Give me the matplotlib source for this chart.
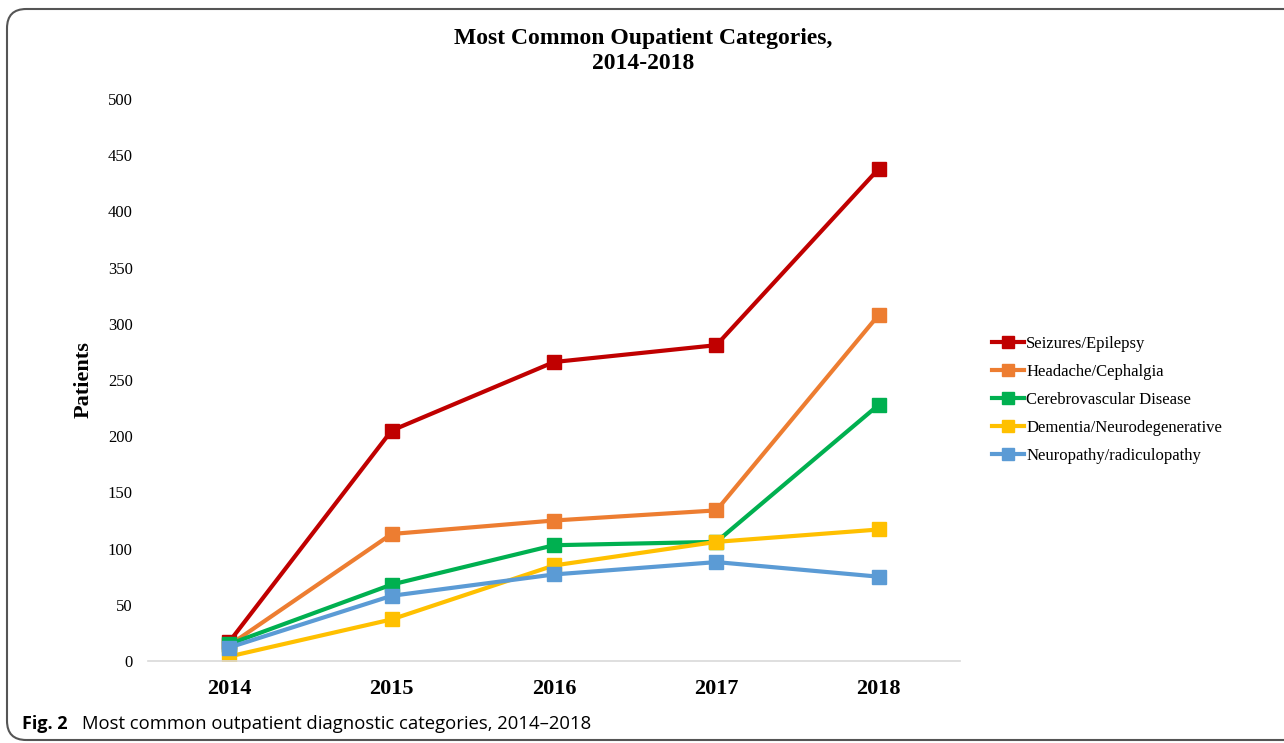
import matplotlib
matplotlib.use("Agg")
import matplotlib.pyplot as plt
from matplotlib.patches import FancyBboxPatch

# data
years = [2014, 2015, 2016, 2017, 2018]
seizures = [17, 205, 266, 281, 438]
headache = [14, 113, 125, 134, 308]
cerebro = [15, 68, 103, 106, 228]
dementia = [4, 37, 85, 106, 117]
neuropathy = [12, 58, 77, 88, 75]

names = ["Seizures/Epilepsy", "Headache/Cephalgia", "Cerebrovascular Disease",
         "Dementia/Neurodegenerative", "Neuropathy/radiculopathy"]
series = [seizures, headache, cerebro, dementia, neuropathy]
colors = ["#C00000", "#ED7D31", "#00B050", "#FFC000", "#5B9BD5"]

serif = "Liberation Serif"

fig = plt.figure(figsize=(12.84, 7.43), dpi=100)
ax = fig.add_axes([148/1284, 82/743, (960-148)/1284, (661-99)/743])

for vals, name, c in zip(series, names, colors):
    ax.plot(years, vals, color=c, lw=3, marker="s", ms=10, label=name)

ax.set_xlim(2013.5, 2018.5)
ax.set_ylim(0, 500)
ax.set_yticks(range(0, 501, 50))
ax.set_xticks(years)
ax.set_xticklabels([str(y) for y in years], fontfamily=serif, fontweight="bold", fontsize=16)
for t in ax.get_yticklabels():
    t.set_fontfamily(serif)
    t.set_fontsize(12)
ax.tick_params(axis="both", length=0)
ax.tick_params(axis="x", pad=13)
ax.tick_params(axis="y", pad=11)
for s in ["top", "right", "left"]:
    ax.spines[s].set_visible(False)
ax.spines["bottom"].set_color("#D9D9D9")
ax.spines["bottom"].set_linewidth(1.2)

ax.set_ylabel("Patients", fontfamily=serif, fontweight="bold", fontsize=16, labelpad=10)

fig.text(643/1284, 1 - 51/743, "Most Common Oupatient Categories,\n2014-2018",
         ha="center", va="center", fontfamily=serif, fontweight="bold",
         fontsize=17, linespacing=1.3)

leg = ax.legend(loc="upper left", bbox_to_anchor=(977/1284, 1 - 321/743),
                bbox_transform=fig.transFigure, frameon=False,
                prop={"family": serif, "size": 12}, handlelength=1.9,
                handletextpad=0.15, labelspacing=0.72, markerscale=0.8)

# caption under the chart
fig.text(22/1284, 1 - 724/743, "Fig. 2", fontfamily="Open Sans", fontweight="bold",
         fontsize=13, va="center")
fig.text(82/1284, 1 - 724/743, "Most common outpatient diagnostic categories, 2014\u20132018",
         fontfamily="Open Sans", fontsize=13.3, va="center")

# rounded frame around figure
frame = FancyBboxPatch((7/1284, 3/743), 1.05, (740-9)/743,
                       boxstyle="round,pad=0,rounding_size=0.015",
                       transform=fig.transFigure, fill=False,
                       edgecolor="#555555", lw=1.5, mutation_aspect=1284/743)
fig.patches.append(frame)

fig.savefig("out.png", dpi=100)
